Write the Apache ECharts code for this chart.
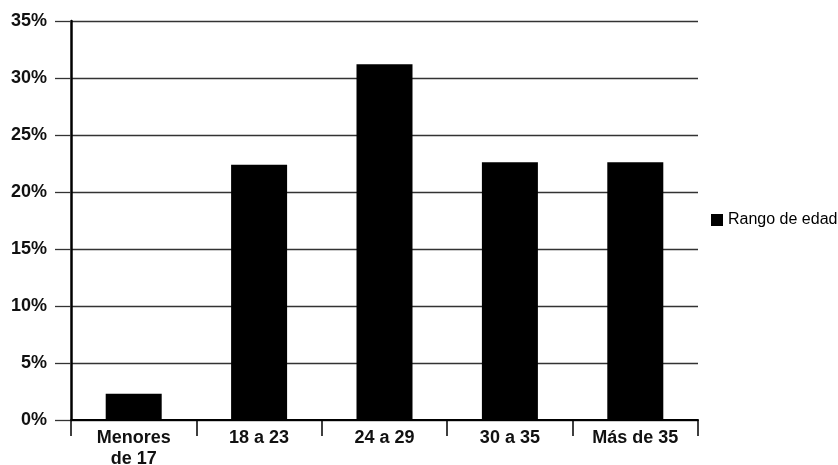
<!DOCTYPE html>
<html>
<head>
<meta charset="utf-8">
<script src="https://cdn.jsdelivr.net/npm/echarts@6/dist/echarts.min.js"></script>
<style>
  html, body { margin: 0; padding: 0; background: #fff; }
  #chart { width: 838px; height: 465px; }
</style>
</head>
<body>
<div id="chart"></div>
<script>
// Age ranges and share of respondents (%)
const categories = ['Menores\nde 17', '18 a 23', '24 a 29', '30 a 35', 'Más de 35'];
const seriesName = 'Rango de edad';
const values = [2.3, 22.4, 31.2, 22.6, 22.6];
const yTicks = [0, 5, 10, 15, 20, 25, 30, 35];

const FONT = '"Liberation Sans", Arial, Helvetica, sans-serif';

const chart = echarts.init(document.getElementById('chart'), null, { renderer: 'canvas' });
chart.setOption({
  animation: false,
  backgroundColor: '#ffffff',
  grid: { left: 71, right: 140, top: 21, bottom: 45, containLabel: false, outerBoundsMode: 'none' },
  legend: {
    data: [seriesName],
    left: 706,
    top: 207,
    icon: 'rect',
    itemWidth: 12,
    itemHeight: 12,
    itemGap: 5,
    textStyle: { fontFamily: FONT, fontSize: 16, color: '#000' }
  },
  xAxis: {
    type: 'category',
    data: categories,
    boundaryGap: true,
    axisLine: { show: true, lineStyle: { color: '#000', width: 2 } },
    axisTick: { show: true, length: 16, alignWithLabel: false, lineStyle: { color: '#000', width: 1.5 } },
    axisLabel: {
      fontFamily: FONT, fontSize: 18, fontWeight: 'bold', color: '#111',
      margin: 8, lineHeight: 21, interval: 0
    },
    splitLine: { show: false }
  },
  yAxis: {
    type: 'value',
    min: yTicks[0],
    max: yTicks[yTicks.length - 1],
    interval: 5,
    axisLine: { show: true, lineStyle: { color: '#000', width: 2.5 } },
    axisTick: { show: true, length: 16, inside: false, lineStyle: { color: '#333', width: 1.3 } },
    axisLabel: {
      fontFamily: FONT, fontSize: 18, fontWeight: 'bold', color: '#111',
      margin: 24,
      formatter: v => v + '%'
    },
    splitLine: { show: true, lineStyle: { color: '#333', width: 1.3 } }
  },
  series: [{
    name: seriesName,
    type: 'bar',
    data: values,
    barWidth: 56,
    itemStyle: { color: '#000' }
  }]
});
</script>
</body>
</html>
